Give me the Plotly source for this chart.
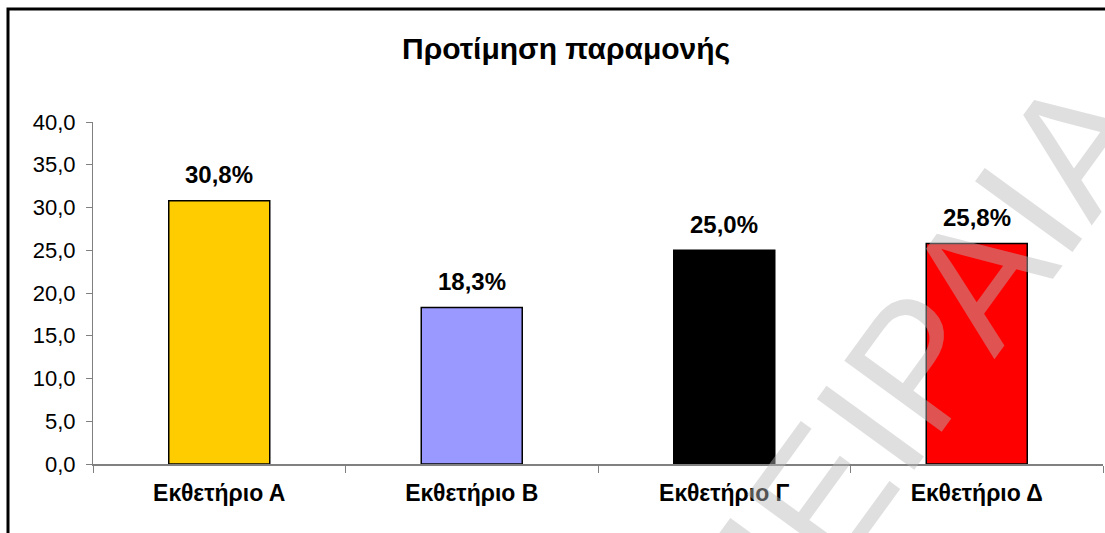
import plotly.graph_objects as go

# Chart data
categories = ["Εκθετήριο Α", "Εκθετήριο Β", "Εκθετήριο Γ", "Εκθετήριο Δ"]
values = [30.8, 18.3, 25.0, 25.8]
value_labels = ["30,8%", "18,3%", "25,0%", "25,8%"]
bar_colors = ["#FFCC00", "#9999FF", "#000000", "#FF0000"]
y_ticks = [0, 5, 10, 15, 20, 25, 30, 35, 40]
title_text = "Προτίμηση παραμονής"
watermark_text = "ΤΕΙ ΠΕΙΡΑΙΑ"

W, H = 1105, 533
L, R, T, B = 93, 2, 122, 69
plot_w = W - L - R
plot_h = H - T - B


def px_to_paper(px, py):
    return (px - L) / plot_w, (H - B - py) / plot_h


fig = go.Figure()
fig.add_trace(go.Bar(
    x=categories,
    y=values,
    marker=dict(color=bar_colors, line=dict(color="#000000", width=1.5)),
    hoverinfo="skip",
))

annotations = []
for cat, val, lab in zip(categories, values, value_labels):
    annotations.append(dict(
        x=cat, y=val, xref="x", yref="y", text=lab, showarrow=False,
        xanchor="center", yanchor="middle", yshift=26,
        font=dict(family="Arial, Liberation Sans", size=24, color="#000000", weight="bold"),
    ))

# Title
tx, ty = px_to_paper(566, 48)
annotations.append(dict(
    x=tx, y=ty, xref="paper", yref="paper", text=title_text, showarrow=False,
    xanchor="center", yanchor="middle",
    font=dict(family="Arial, Liberation Sans", size=30, color="#000000", weight="bold"),
))

# Diagonal watermark
wx, wy = px_to_paper(818, 500)
annotations.append(dict(
    x=wx, y=wy, xref="paper", yref="paper", text=watermark_text, showarrow=False,
    xanchor="center", yanchor="middle", textangle=-54,
    font=dict(family="Arial, Liberation Sans", size=175, color="rgba(185,185,185,0.45)"),
))

# Outer frame of the chart area
fx0, fy0 = px_to_paper(8, 9)
shapes = [dict(
    type="rect", xref="paper", yref="paper",
    x0=fx0, y0=-1.0, x1=1.5, y1=fy0,
    line=dict(color="#000000", width=3), fillcolor="rgba(0,0,0,0)", layer="below",
)]

fig.update_layout(
    width=W, height=H,
    margin=dict(l=L, r=R, t=T, b=B, pad=0),
    paper_bgcolor="#FFFFFF",
    plot_bgcolor="#FFFFFF",
    showlegend=False,
    bargap=0.6,
    separators=", ",
    annotations=annotations,
    shapes=shapes,
    font=dict(family="Arial, Liberation Sans", color="#000000"),
)

fig.update_xaxes(
    type="category",
    showline=True, linecolor="#808080", linewidth=2,
    ticks="outside", tickson="boundaries", ticklen=7, tickcolor="#808080", tickwidth=1,
    showgrid=False, zeroline=False,
    tickfont=dict(family="Arial, Liberation Sans", size=23, color="#000000", weight="bold"),
    ticklabelstandoff=7,
)

fig.update_yaxes(
    range=[0, 40],
    tickvals=y_ticks,
    tickformat=".1f",
    showline=True, linecolor="#808080", linewidth=1,
    ticks="outside", ticklen=6, tickcolor="#808080", tickwidth=1,
    showgrid=False, zeroline=False,
    tickfont=dict(family="Arial, Liberation Sans", size=22, color="#000000"),
    ticklabelstandoff=6,
)

fig.write_html("out.html")
